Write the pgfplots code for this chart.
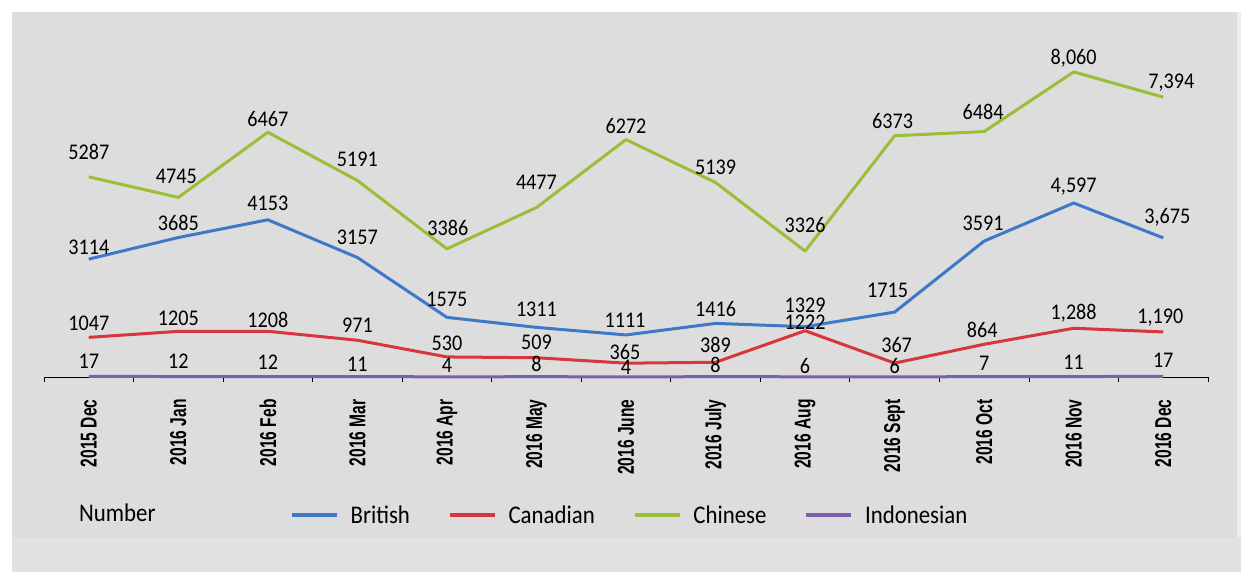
\documentclass[border=0pt]{standalone}
\usepackage{fontspec}
\setmainfont{Carlito}
\newfontfamily\labelfont[FakeStretch=0.9]{Carlito}
\newfontfamily\tickfont[FakeStretch=0.68]{Liberation Sans}
\usepackage{pgfplots}
\usepackage{pgfplotstable}
\pgfplotsset{compat=1.18}
\definecolor{bgA}{RGB}{221,221,221}
\definecolor{bgB}{RGB}{226,226,226}
\definecolor{bgC}{RGB}{238,238,238}
\definecolor{cBrit}{RGB}{64,120,200}
\definecolor{cCan}{RGB}{215,55,60}
\definecolor{cChi}{RGB}{155,190,55}
\definecolor{cIndo}{RGB}{125,95,175}

\pgfplotstableread{
x y lab dy dx
0 3114 3114 12 0
1 3685 3685 15 0
2 4153 4153 17 0
3 3157 3157 20 0
4 1575 1575 18 0
5 1311 1311 18 0
6 1111 1111 15 -1
7 1416 1416 14 0
8 1329 1329 21 0
9 1715 1715 22 -7
10 3591 3591 18 -1
11 4597 4,597 16 0
12 3675 3,675 21 4
}\british
\pgfplotstableread{
x y lab dy dx
0 1047 1047 14 0
1 1205 1205 13 0
2 1208 1208 11 0
3 971 971 15 0
4 530 530 14 0
5 509 509 15 0
6 365 365 11 -1
7 389 389 17 0
8 1222 1222 9 0
9 367 367 18 2
10 864 864 14 -2
11 1288 1,288 15 0
12 1190 1,190 14 -3
}\canadian
\pgfplotstableread{
x y lab dy dx
0 5287 5287 25 0
1 4745 4745 21 -2
2 6467 6467 13 0
3 5191 5191 21 0
4 3386 3386 21 1
5 4477 4477 25 0
6 6272 6272 14 0
7 5139 5139 15 0
8 3326 3326 26 0
9 6373 6373 15 -2
10 6484 6484 20 -1
11 8060 8,060 14 0
12 7394 7,394 14 8
}\chinese
\pgfplotstableread{
x y lab dy dx
0 17 17 15 0
1 12 12 15 0
2 12 12 14 0
3 11 11 12 0
4 4 4 12 0
5 8 8 13 0
6 4 4 10 0
7 8 8 12 0
8 6 6 11 0
9 6 6 11 0
10 7 7 13 0
11 11 11 14 0
12 17 17 16 0
}\indonesian

\pgfplotsset{
  lbl/.style={
    forget plot,
    nodes near coords,
    point meta=explicit symbolic,
    nodes near coords align={center},
    visualization depends on={\thisrow{dy} \as \ldy},
    visualization depends on={\thisrow{dx} \as \ldx},
    every node near coord/.append style={anchor=center, text=black,
      font=\labelfont\fontsize{22.5}{24}\selectfont, inner sep=0pt,
      yshift=\ldy bp, xshift=\ldx bp},
  },
}

\begin{document}
\begin{tikzpicture}
\fill[white] (0,0) rectangle (1241bp,572bp);
\fill[bgA] (12bp,34bp) rectangle (1237bp,560bp);
\fill[bgB] (12bp,0bp) rectangle (1241bp,34bp);
\fill[bgC] (1237bp,34bp) rectangle (1241bp,560bp);
\begin{axis}[
  at={(44bp,195bp)}, anchor=south west,
  scale only axis,
  width=1164bp, height=340.65bp,
  xmin=-0.5, xmax=12.5,
  ymin=0, ymax=9000,
  clip=false,
  axis x line*=bottom,
  axis y line=none,
  x axis line style={black, line width=0.8bp, -},
  xtick={0,...,12},
  xticklabels={2015 Dec,2016 Jan,2016 Feb,2016 Mar,2016 Apr,2016 May,2016 June,2016 July,2016 Aug,2016 Sept,2016 Oct,2016 Nov,2016 Dec},
  major x tick style={draw=none},
  minor xtick={-0.5,0.5,...,12.5},
  minor tick length=5bp,
  tick align=outside,
  minor x tick style={black, line width=0.8bp},
  xticklabel style={font=\tickfont\bfseries\fontsize{23}{23}\selectfont, rotate=90, anchor=east, inner sep=0pt, text=black},
  xticklabel shift=18bp,
  ytick={1000,2000,...,8000},
  yticklabels={},
  ymajorgrids,
  grid style={white, line width=1.8bp},
  legend columns=4,
  legend style={at={(0.2113,-0.4051)}, anchor=west, draw=none, fill=none, inner sep=0pt,
    font=\labelfont\fontsize{25.5}{26}\selectfont,
    nodes={inner sep=0pt, anchor=west},
    /tikz/every odd column/.append style={column sep=12bp},
    /tikz/every even column/.append style={column sep=38bp}},
  legend image code/.code={\draw[#1, line width=3.5bp] (0bp,0bp) -- (45bp,0bp);},
]
\addplot[cBrit, line width=3bp, line join=round, lbl] table[x=x, y=y, meta=lab]{\british};
\addplot[cCan, line width=3bp, line join=round, lbl] table[x=x, y=y, meta=lab]{\canadian};
\addplot[cChi, line width=3bp, line join=round, lbl] table[x=x, y=y, meta=lab]{\chinese};
\addplot[cIndo, line width=3bp, line join=round, lbl] table[x=x, y=y, meta=lab]{\indonesian};
\addlegendimage{cBrit}\addlegendentry{British}
\addlegendimage{cCan}\addlegendentry{Canadian}
\addlegendimage{cChi}\addlegendentry{Chinese}
\addlegendimage{cIndo}\addlegendentry{Indonesian}
\end{axis}
\node[anchor=west, inner sep=0pt, font=\labelfont\fontsize{25.5}{26}\selectfont] at (79bp,59bp) {Number};
\end{tikzpicture}
\end{document}
